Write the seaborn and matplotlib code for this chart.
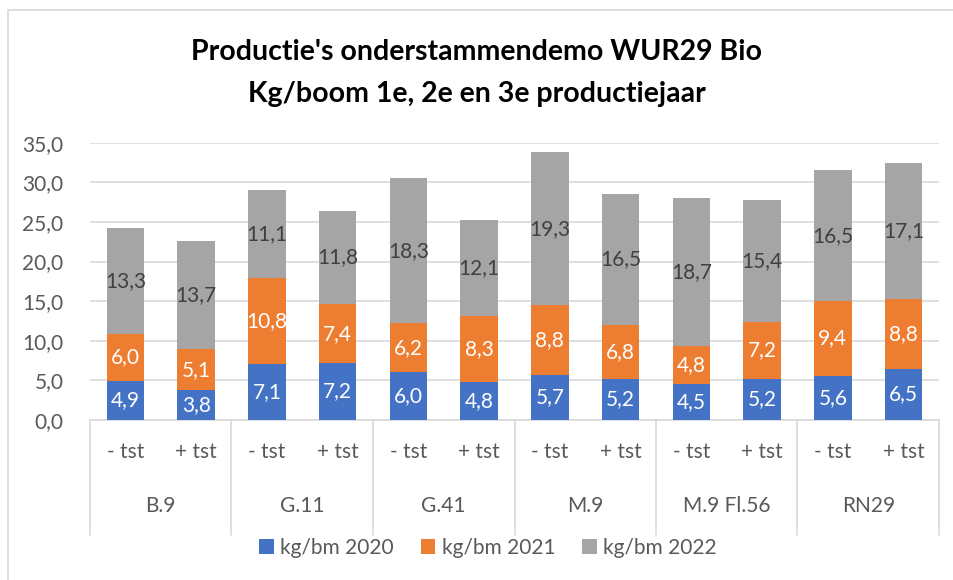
import numpy as np
import pandas as pd
import seaborn as sns
import matplotlib.pyplot as plt
from matplotlib.patches import Patch, Rectangle
import matplotlib.transforms as mtransforms

rootstocks = ["B.9", "G.11", "G.41", "M.9", "M.9 Fl.56", "RN29"]
treatments = ["- tst", "+ tst"]
kg_2020 = [4.9, 3.8, 7.1, 7.2, 6.0, 4.8, 5.7, 5.2, 4.5, 5.2, 5.6, 6.5]
kg_2021 = [6.0, 5.1, 10.8, 7.4, 6.2, 8.3, 8.8, 6.8, 4.8, 7.2, 9.4, 8.8]
kg_2022 = [13.3, 13.7, 11.1, 11.8, 18.3, 12.1, 19.3, 16.5, 18.7, 15.4, 16.5, 17.1]
series = ["kg/bm 2020", "kg/bm 2021", "kg/bm 2022"]
colors = ["#4472C4", "#ED7D31", "#A5A5A5"]
label_colors = ["white", "white", "#404040"]

sns.set_theme(style="white")
plt.rcParams["font.family"] = ["Lato", "DejaVu Sans"]

fs = 15

bars = [f"{r}|{t}" for r in rootstocks for t in treatments]
df = pd.DataFrame({"bar": bars, "y2020": kg_2020, "y2021": kg_2021, "y2022": kg_2022})
df["top2021"] = df["y2020"] + df["y2021"]
df["top2022"] = df["top2021"] + df["y2022"]

fig = plt.figure(figsize=(9.54, 5.8), dpi=100)
ax = fig.add_axes([90 / 954, 1 - 420 / 580, 849 / 954, 277.3 / 580])

# stacked by overdrawing cumulative totals
for col, c in zip(["top2022", "top2021", "y2020"], colors[::-1]):
    sns.barplot(data=df, x="bar", y=col, order=bars, color=c, saturation=1,
                width=0.53, linewidth=0, ax=ax, zorder=3)

ax.set_ylim(0, 35)
ax.set_xlim(-0.5, len(bars) - 0.5)
ax.set_yticks(np.arange(0, 36, 5))
ax.set_yticklabels([f"{v:.1f}".replace(".", ",") for v in np.arange(0, 36, 5)],
                   fontsize=fs, color="#595959")
ax.set_xticks([])
ax.set_xlabel("")
ax.set_ylabel("")
ax.tick_params(axis="y", length=0, pad=19)
ax.grid(axis="y", color="#d9d9d9", linewidth=1.2, zorder=0)
ax.set_axisbelow(True)
for s in ["top", "right", "left"]:
    ax.spines[s].set_visible(False)
ax.spines["bottom"].set_color("#d9d9d9")
ax.spines["bottom"].set_linewidth(1.2)

# data labels
for i in range(len(bars)):
    bottom = 0
    for vals, lc in zip([kg_2020, kg_2021, kg_2022], label_colors):
        v = vals[i]
        ax.text(i, bottom + v / 2, f"{v:.1f}".replace(".", ","), ha="center",
                va="center", fontsize=fs, color=lc, zorder=5)
        bottom += v

# multi-level category axis
trans = mtransforms.blended_transform_factory(ax.transData, ax.transAxes)
for b in np.arange(-0.5, len(bars), 2):
    ax.plot([b, b], [0, -0.415], transform=trans, color="#d9d9d9", lw=1.2,
            clip_on=False)
for i, b in enumerate(bars):
    ax.text(i, -0.115, b.split("|")[1], transform=trans, ha="center", va="center",
            fontsize=fs, color="#595959")
for j, r in enumerate(rootstocks):
    ax.text(2 * j + 0.5, -0.31, r, transform=trans, ha="center", va="center",
            fontsize=fs, color="#595959")

fig.text(0.5, 1 - 52 / 580, "Productie's onderstammendemo WUR29 Bio", ha="center",
         va="center", fontsize=20.5, fontweight="bold", color="black")
fig.text(0.5, 1 - 94 / 580, "Kg/boom 1e, 2e en 3e productiejaar", ha="center",
         va="center", fontsize=20.5, fontweight="bold", color="black")

handles = [Patch(facecolor=c, edgecolor="none") for c in colors]
fig.legend(handles, series, loc="center", bbox_to_anchor=(488 / 954, 1 - 548 / 580),
           ncol=3, frameon=False, fontsize=fs, handlelength=0.7, handleheight=0.7,
           handletextpad=0.3, columnspacing=1.3, labelcolor="#595959")

fig.patches.append(Rectangle((8 / 954, -0.1), 1.2, 1.1 - 10 / 580,
                             transform=fig.transFigure, fill=False,
                             edgecolor="#d9d9d9", lw=1.2))

fig.savefig("out.png", dpi=100)
